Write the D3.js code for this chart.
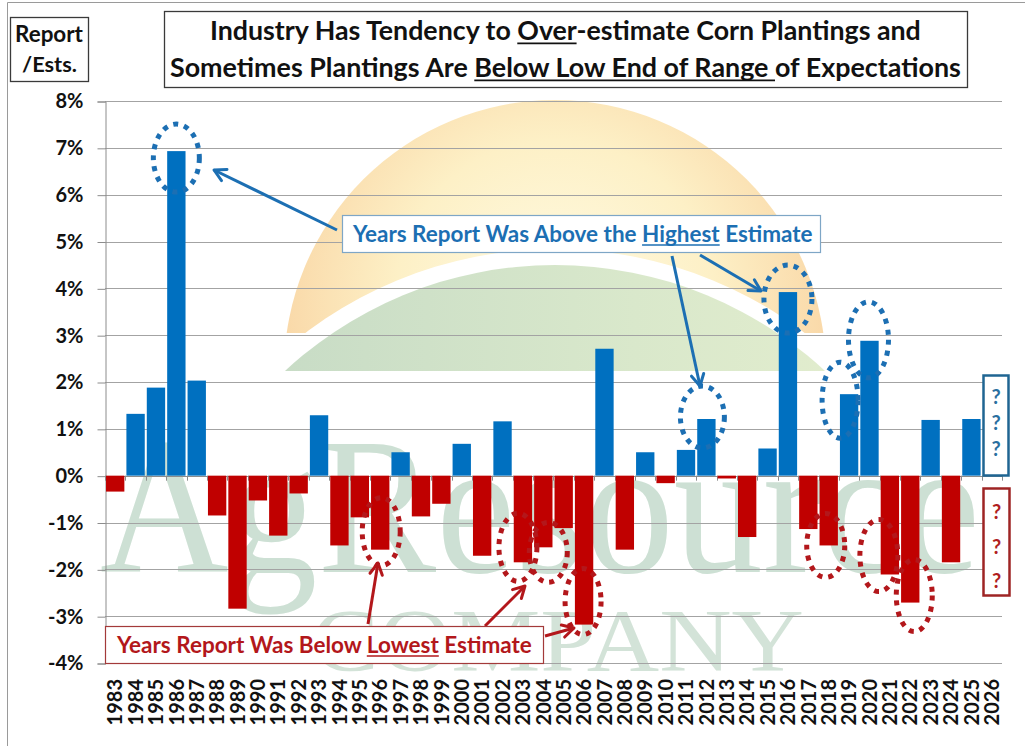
<!DOCTYPE html>
<meta charset="utf-8" />
<title>Corn Plantings: USDA Report vs. Trade Estimates</title>
<script src="https://d3js.org/d3.v7.min.js"></script>
<style>
  body { margin: 0; background: #fff; }
  svg text { font-family: Lato, "Open Sans", "Liberation Sans", sans-serif; font-weight: bold; }
</style>
<svg id="chart" width="1025" height="746"></svg>

<script>
  // Report minus average trade estimate, in percent
  var years = ["1983","1984","1985","1986","1987","1988","1989","1990","1991","1992",
               "1993","1994","1995","1996","1997","1998","1999","2000","2001","2002",
               "2003","2004","2005","2006","2007","2008","2009","2010","2011","2012",
               "2013","2014","2015","2016","2017","2018","2019","2020","2021","2022",
               "2023","2024","2025","2026"];
  var diffs = [-0.34, 1.32, 1.88, 6.93, 2.03, -0.85, -2.84, -0.53, -1.28, -0.38,
                1.29, -1.49, -0.89, -1.58, 0.50, -0.87, -0.60, 0.68, -1.71, 1.16,
               -1.85, -1.53, -1.12, -3.18, 2.71, -1.58, 0.50, -0.16, 0.55, 1.21,
               -0.06, -1.31, 0.58, 3.92, -1.14, -1.49, 1.74, 2.88, -2.11, -2.71,
                1.19, -1.85, 1.21, null];
  var yTicks = [-4, -3, -2, -1, 0, 1, 2, 3, 4, 5, 6, 7, 8];

  // years circled on the chart
  var aboveYears = ["1986", "2012", "2016", "2019", "2020"];
  var belowYears = ["1996", "2003", "2004", "2006", "2018", "2021", "2022"];

  var blue = "#0070c0", red = "#c00000";
  var blueInk = "#1c6fb3", redInk = "#b3171b";

  var svg = d3.select("#chart");
  var plotL = 105, plotR = 1002, plotT = 101, plotB = 663;

  var x = d3.scaleBand().domain(years).range([plotL, plotR])
    .paddingInner(0.1).paddingOuter(0.05);
  var y = d3.scaleLinear().domain([-4, 8]).range([plotB, plotT]);

  var data = years.map(function(yr, i) { return { year: yr, v: diffs[i] }; });
  var byYear = {};
  data.forEach(function(d) { byYear[d.year] = d; });

  // ---- outer frame
  svg.append("path").attr("d", "M7.5,746 V2.5 H1025")
    .attr("fill", "none").attr("stroke", "#9a9a9a");

  // ---- watermark logo
  var defs = svg.append("defs");
  var sun = defs.append("radialGradient").attr("id", "sun")
    .attr("gradientUnits", "userSpaceOnUse").attr("cx", 555).attr("cy", 300).attr("r", 290);
  sun.append("stop").attr("offset", "0%").attr("stop-color", "#fffbe4");
  sun.append("stop").attr("offset", "55%").attr("stop-color", "#fdf0c6");
  sun.append("stop").attr("offset", "100%").attr("stop-color", "#f9d5a4");
  var leaf = defs.append("linearGradient").attr("id", "leaf")
    .attr("x1", "0%").attr("x2", "100%").attr("y1", "0%").attr("y2", "0%");
  leaf.append("stop").attr("offset", "0%").attr("stop-color", "#c2d8c4");
  leaf.append("stop").attr("offset", "60%").attr("stop-color", "#d9e8cb");
  leaf.append("stop").attr("offset", "100%").attr("stop-color", "#e6efcf");
  defs.append("clipPath").attr("id", "clipSun")
    .append("rect").attr("x", 0).attr("y", 0).attr("width", 1025).attr("height", 333);
  defs.append("clipPath").attr("id", "clipLeaf")
    .append("rect").attr("x", 0).attr("y", 0).attr("width", 1025).attr("height", 371);

  var logo = svg.append("g").attr("class", "logo");
  logo.append("circle").attr("cx", 555).attr("cy", 371).attr("r", 271)
    .attr("fill", "url(#sun)").attr("clip-path", "url(#clipSun)");
  logo.append("circle").attr("cx", 555).attr("cy", 662).attr("r", 413)
    .attr("fill", "#fff").attr("clip-path", "url(#clipLeaf)");
  logo.append("circle").attr("cx", 555).attr("cy", 662).attr("r", 397)
    .attr("fill", "url(#leaf)").attr("clip-path", "url(#clipLeaf)");
  logo.append("text").text("AgResource")
    .attr("x", 100).attr("y", 572).attr("textLength", 880).attr("lengthAdjust", "spacingAndGlyphs")
    .style("font-family", "'Liberation Serif', 'DejaVu Serif', serif").style("font-weight", "normal")
    .attr("font-size", 196).attr("fill", "#cde0d4");
  logo.append("text").text("COMPANY")
    .attr("x", 312).attr("y", 670).attr("textLength", 492).attr("lengthAdjust", "spacingAndGlyphs")
    .style("font-family", "'Liberation Serif', 'DejaVu Serif', serif").style("font-weight", "normal")
    .attr("font-size", 88).attr("fill", "#d3e3d8");

  // ---- gridlines and axes
  svg.append("g").selectAll("line").data(yTicks).join("line")
    .attr("x1", plotL).attr("x2", plotR)
    .attr("y1", function(d) { return Math.round(y(d)) + 0.5; })
    .attr("y2", function(d) { return Math.round(y(d)) + 0.5; })
    .attr("stroke", "#a3a3a3").attr("stroke-width", 1);

  var yAxis = svg.append("g").attr("transform", "translate(" + (plotL + 0.5) + ",0.5)")
    .call(d3.axisLeft(y).tickValues(yTicks).tickSize(8).tickPadding(14)
      .tickFormat(function(d) { return d + "%"; }));
  yAxis.select(".domain").attr("stroke", "#8c8c8c");
  yAxis.selectAll(".tick line").attr("stroke", "#8c8c8c");
  yAxis.selectAll("text").attr("font-size", 20).attr("fill", "#111")
    .style("font-family", "Lato, sans-serif");

  // zero line with small ticks at category boundaries
  var step = x.step();
  var bounds = years.map(function(yr) { return x(yr) - x.paddingInner() * step / 2; });
  bounds.push(plotR);
  var zero = svg.append("g");
  zero.append("line").attr("x1", plotL).attr("x2", plotR)
    .attr("y1", Math.round(y(0)) + 0.5).attr("y2", Math.round(y(0)) + 0.5)
    .attr("stroke", "#8c8c8c");
  zero.selectAll("line.tk").data(bounds).join("line").attr("class", "tk")
    .attr("x1", function(d) { return Math.round(d) + 0.5; })
    .attr("x2", function(d) { return Math.round(d) + 0.5; })
    .attr("y1", y(0)).attr("y2", y(0) + 5).attr("stroke", "#8c8c8c");

  var xAxis = svg.append("g").attr("transform", "translate(0,675)")
    .call(d3.axisBottom(x).tickSize(0));
  xAxis.select(".domain").remove();
  xAxis.selectAll("text")
    .attr("transform", "rotate(-90)").attr("text-anchor", "end")
    .attr("x", -4).attr("y", 0).attr("dy", "0.36em")
    .attr("font-size", 20).attr("fill", "#111");

  // ---- bars
  svg.append("g").selectAll("rect").data(data.filter(function(d) { return d.v !== null; }))
    .join("rect")
    .attr("x", function(d) { return x(d.year); })
    .attr("width", x.bandwidth())
    .attr("y", function(d) { return y(Math.max(0, d.v)); })
    .attr("height", function(d) { return Math.max(2, Math.abs(y(d.v) - y(0))); })
    .attr("fill", function(d) { return d.v >= 0 ? blue : red; });

  // ---- dotted ellipses round the circled years (offsets in px from bar end)
  var rings = {
    "1986": [0, 7, 23, 34], "2012": [-4, -2, 22, 31], "2016": [0, 7, 24, 34],
    "2019": [-9, 6, 18, 38], "2020": [-1, -1, 20, 38],
    "1996": [1, -18, 19, 34], "2003": [-5, -15, 19, 34], "2004": [5, 5, 19, 30],
    "2006": [-1, -23, 18, 33], "2018": [-3, 0, 19, 32], "2021": [-11, -19, 19, 36],
    "2022": [4, -7, 18, 36]
  };
  var ringData = aboveYears.concat(belowYears).map(function(yr) {
    var d = byYear[yr], r = rings[yr];
    return { cx: x(yr) + x.bandwidth() / 2 + r[0], cy: y(d.v) + r[1], rx: r[2], ry: r[3],
             c: d.v >= 0 ? blueInk : redInk };
  });
  svg.append("g").selectAll("ellipse").data(ringData).join("ellipse")
    .attr("cx", function(d) { return d.cx; }).attr("cy", function(d) { return d.cy; })
    .attr("rx", function(d) { return d.rx; }).attr("ry", function(d) { return d.ry; })
    .attr("fill", "none").attr("stroke", function(d) { return d.c; })
    .attr("stroke-width", 5).attr("stroke-dasharray", "5 6");

  // ---- callout arrows
  function arrow(g, x1, y1, x2, y2, color) {
    var a = Math.atan2(y2 - y1, x2 - x1), h = 13, s = 0.5;
    g.append("line").attr("x1", x1).attr("y1", y1).attr("x2", x2).attr("y2", y2)
      .attr("stroke", color).attr("stroke-width", 3);
    g.append("path")
      .attr("d", "M" + (x2 - h * Math.cos(a - s)) + "," + (y2 - h * Math.sin(a - s)) +
                 "L" + x2 + "," + y2 +
                 "L" + (x2 - h * Math.cos(a + s)) + "," + (y2 - h * Math.sin(a + s)))
      .attr("fill", "none").attr("stroke", color).attr("stroke-width", 3)
      .attr("stroke-linecap", "round").attr("stroke-linejoin", "round");
  }
  var arrows = svg.append("g");
  arrow(arrows, 337, 230, 214, 170, blueInk);
  arrow(arrows, 672, 256, 700, 386, blueInk);
  arrow(arrows, 700, 255, 761, 291, blueInk);
  arrow(arrows, 368, 624, 378, 563, redInk);
  arrow(arrows, 485, 626, 525, 586, redInk);
  arrow(arrows, 545, 636, 574, 628, redInk);

  // ---- text helpers
  function fit(t, w) {
    var fs = parseFloat(t.attr("font-size"));
    t.attr("font-size", fs * w / t.node().getComputedTextLength());
    return t;
  }
  function underline(g, t, word, color) {
    var n = t.node(), s = n.textContent, i = s.indexOf(word);
    var fs = parseFloat(t.attr("font-size"));
    var x1 = n.getStartPositionOfChar(i).x, x2 = n.getEndPositionOfChar(i + word.length - 1).x;
    var yy = +t.attr("y") + fs * 0.13;
    g.append("line").attr("x1", x1).attr("x2", x2).attr("y1", yy).attr("y2", yy)
      .attr("stroke", color).attr("stroke-width", Math.max(1.2, fs * 0.065));
  }

  // ---- callout boxes
  var cb = svg.append("g");
  cb.append("rect").attr("x", 342.5).attr("y", 215.5).attr("width", 478).attr("height", 37)
    .attr("fill", "#fff").attr("stroke", "#7ea6c6").attr("stroke-width", 1.2);
  var tb = cb.append("text").text("Years Report Was Above the Highest Estimate")
    .attr("x", 353).attr("y", 242).attr("font-size", 21).attr("fill", blueInk);
  fit(tb, 460);
  underline(cb, tb, "Highest", blueInk);

  cb.append("rect").attr("x", 105.5).attr("y", 626.5).attr("width", 438).attr("height", 37)
    .attr("fill", "#fff").attr("stroke", "#a33a3a").attr("stroke-width", 1.2);
  var tr = cb.append("text").text("Years Report Was Below Lowest Estimate")
    .attr("x", 117).attr("y", 653).attr("font-size", 20).attr("fill", redInk);
  fit(tr, 415);
  underline(cb, tr, "Lowest", redInk);

  // ---- question-mark boxes for the coming report
  var q = svg.append("g");
  q.append("rect").attr("x", 983.5).attr("y", 375.5).attr("width", 25).attr("height", 100)
    .attr("fill", "#fff").attr("stroke", "#1f6592").attr("stroke-width", 2.5);
  q.append("rect").attr("x", 983.5).attr("y", 488.5).attr("width", 26).attr("height", 107)
    .attr("fill", "#fff").attr("stroke", "#9e2424").attr("stroke-width", 2.5);
  [397, 423, 449].forEach(function(cy) {
    q.append("text").text("?").attr("x", 996).attr("y", cy).attr("dy", "0.36em")
      .attr("text-anchor", "middle").attr("font-size", 20).attr("fill", "#2a6fa0");
  });
  [512, 547, 581].forEach(function(cy) {
    q.append("text").text("?").attr("x", 996.5).attr("y", cy).attr("dy", "0.36em")
      .attr("text-anchor", "middle").attr("font-size", 20).attr("fill", "#b01e1e");
  });

  // ---- title and axis caption boxes
  var head = svg.append("g");
  head.append("rect").attr("x", 164.5).attr("y", 11.5).attr("width", 803).attr("height", 76)
    .attr("fill", "#fff").attr("stroke", "#3a3a3a").attr("stroke-width", 1.3);
  var t1 = head.append("text").text("Industry Has Tendency to Over-estimate Corn Plantings and")
    .attr("x", 210).attr("y", 40).attr("font-size", 24).attr("fill", "#111");
  fit(t1, 711);
  underline(head, t1, "Over", "#111");
  var t2 = head.append("text").text("Sometimes Plantings Are Below Low End of Range of Expectations")
    .attr("x", 170).attr("y", 77).attr("font-size", 24).attr("fill", "#111");
  fit(t2, 791);
  underline(head, t2, "Below Low End of Range ", "#111");

  head.append("rect").attr("x", 10.5).attr("y", 17.5).attr("width", 78).attr("height", 64)
    .attr("fill", "#fff").attr("stroke", "#3a3a3a").attr("stroke-width", 1.3);
  fit(head.append("text").text("Report").attr("x", 15).attr("y", 42)
    .attr("font-size", 18).attr("fill", "#111"), 68);
  fit(head.append("text").text("/Ests.").attr("x", 22).attr("y", 72)
    .attr("font-size", 18).attr("fill", "#111"), 55);
</script>
